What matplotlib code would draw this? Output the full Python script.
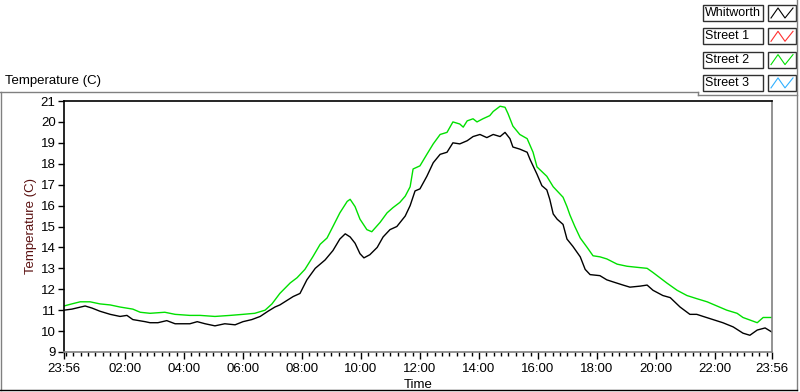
import matplotlib
matplotlib.use("Agg")
import matplotlib.pyplot as plt
from matplotlib.lines import Line2D
from matplotlib.patches import Rectangle
from matplotlib.ticker import FixedLocator, FixedFormatter

plt.rcParams['font.family'] = ['Liberation Sans', 'DejaVu Sans']

# minutes since 23:56, temperature (C)
whit_t = [0, 16, 43, 57, 73, 94, 114, 128, 140, 165, 175, 191, 209, 226, 256, 271, 287, 307,
          327, 348, 364, 382, 399, 415, 429, 439, 466, 480, 494, 511, 531, 547, 561, 572, 582,
          592, 602, 610, 622, 637, 649, 663, 677, 694, 704, 714, 724, 738, 751, 765, 779, 791,
          805, 820, 832, 846, 860, 873, 887, 897, 907, 913, 927, 942, 948, 962, 972, 982, 988,
          995, 1003, 1015, 1023, 1035, 1050, 1060, 1070, 1090, 1104, 1117, 1137, 1151, 1172,
          1186, 1198, 1218, 1233, 1253, 1273, 1287, 1300, 1320, 1340, 1361, 1381, 1395, 1410,
          1426, 1440]
whit_v = [11.0, 11.05, 11.2, 11.1, 10.95, 10.8, 10.7, 10.75, 10.55, 10.45, 10.4, 10.4, 10.5,
          10.35, 10.35, 10.45, 10.35, 10.25, 10.35, 10.3, 10.45, 10.55, 10.7, 10.95, 11.15,
          11.25, 11.65, 11.8, 12.45, 13.0, 13.4, 13.85, 14.4, 14.65, 14.5, 14.2, 13.7, 13.5,
          13.65, 14.0, 14.5, 14.85, 15.0, 15.5, 16.0, 16.7, 16.8, 17.4, 18.05, 18.45, 18.55,
          19.0, 18.95, 19.1, 19.3, 19.4, 19.25, 19.4, 19.3, 19.5, 19.2, 18.8, 18.7, 18.55, 18.2,
          17.5, 16.95, 16.75, 16.3, 15.6, 15.35, 15.1, 14.4, 14.05, 13.55, 12.95, 12.7, 12.65,
          12.45, 12.35, 12.2, 12.1, 12.15, 12.2, 11.95, 11.7, 11.6, 11.15, 10.8, 10.8, 10.7,
          10.55, 10.4, 10.2, 9.9, 9.8, 10.05, 10.15, 9.95]

st2_t = [0, 16, 33, 53, 73, 94, 114, 140, 155, 175, 205, 226, 256, 277, 307, 338, 364, 388,
         409, 423, 439, 460, 474, 490, 506, 521, 535, 547, 561, 576, 582, 592, 602, 616, 626,
         643, 657, 669, 683, 694, 704, 710, 724, 738, 751, 765, 779, 791, 805, 812, 820, 832,
         840, 852, 866, 873, 887, 897, 903, 913, 927, 942, 954, 962, 982, 995, 1015, 1023,
         1029, 1039, 1050, 1064, 1076, 1090, 1104, 1125, 1145, 1165, 1186, 1198, 1212, 1226,
         1247, 1267, 1287, 1308, 1328, 1348, 1369, 1381, 1410, 1422, 1440]
st2_v = [11.2, 11.3, 11.4, 11.4, 11.3, 11.25, 11.15, 11.05, 10.9, 10.85, 10.9, 10.8, 10.75,
         10.75, 10.7, 10.75, 10.8, 10.85, 11.0, 11.3, 11.8, 12.3, 12.55, 12.95, 13.55, 14.15,
         14.45, 15.0, 15.65, 16.2, 16.3, 15.95, 15.35, 14.85, 14.75, 15.2, 15.65, 15.9, 16.15,
         16.45, 16.9, 17.75, 17.9, 18.45, 18.95, 19.4, 19.5, 20.0, 19.9, 19.75, 20.05, 20.15,
         20.0, 20.15, 20.3, 20.5, 20.75, 20.7, 20.4, 19.8, 19.4, 19.2, 18.55, 17.85, 17.4,
         16.9, 16.4, 15.95, 15.55, 15.0, 14.45, 14.0, 13.6, 13.55, 13.45, 13.2, 13.1, 13.05,
         13.0, 12.8, 12.55, 12.3, 11.95, 11.7, 11.55, 11.4, 11.2, 11.0, 10.85, 10.65, 10.4,
         10.65, 10.65]

tick_pos = [0, 124, 244, 364, 484, 604, 724, 844, 964, 1084, 1204, 1324, 1440]
tick_labels = ["23:56", "02:00", "04:00", "06:00", "08:00", "10:00", "12:00", "14:00",
               "16:00", "18:00", "20:00", "22:00", "23:56"]
legend_names = ["Whitworth", "Street 1", "Street 2", "Street 3"]
legend_colors = ["black", "#ff3030", "#00e000", "#30b0ff"]

W, H = 800, 392
fig = plt.figure(figsize=(W / 100, H / 100), dpi=100)


def fx(x):
    return x / W


def fy(y):
    return 1 - y / H


def line(xs, ys, color, lw=1.0):
    fig.add_artist(Line2D([fx(x) for x in xs], [fy(y) for y in ys],
                          transform=fig.transFigure, color=color, lw=lw))


ax = fig.add_axes([fx(64), fy(352), fx(772) - fx(64), fy(101) - fy(352)])
ax.plot(whit_t, whit_v, color="black", lw=1.0)
ax.plot(st2_t, st2_v, color="#00e000", lw=1.0)
ax.set_xlim(0, 1440)
ax.set_ylim(9, 21)

ax.set_yticks(range(9, 22))
ax.xaxis.set_major_locator(FixedLocator(tick_pos))
ax.xaxis.set_major_formatter(FixedFormatter(tick_labels))
ax.xaxis.set_minor_locator(FixedLocator(list(range(4, 1440, 15))))
ax.tick_params(axis="y", direction="out", length=4, width=1, pad=2, labelsize=9.5)
ax.tick_params(axis="x", which="major", direction="out", length=5, width=1, pad=3, labelsize=9.5)
ax.tick_params(axis="x", which="minor", direction="out", length=3, width=1)

for s in ["top", "left"]:
    ax.spines[s].set_color("black")
for s in ["right", "bottom"]:
    ax.spines[s].set_color("#808080")
for s in ax.spines.values():
    s.set_linewidth(1.2)

ax.set_xlabel("Time", fontsize=9.5, labelpad=3)
ax.set_ylabel("Temperature (C)", fontsize=9.5, color="#5a1010", labelpad=3)

# chart frame
fig.text(fx(5), fy(81), "Temperature (C)", fontsize=9.5, va="center", ha="left")
line([0, 698], [92, 92], "#808080")
line([698, 698], [92, 95], "#808080")
line([698, 797], [95, 95], "#808080")
line([797, 797], [0, 390], "#808080")
line([1, 1], [92, 390], "#808080")
line([0, 797], [390, 390], "black")

# legend
for i, (name, col) in enumerate(zip(legend_names, legend_colors)):
    top = 5 + i * 23.3
    fig.add_artist(Rectangle((fx(703), fy(top + 16)), fx(763) - fx(703), fy(top) - fy(top + 16),
                             transform=fig.transFigure, facecolor="white",
                             edgecolor="#303030", lw=1))
    fig.text(fx(705), fy(top + 8), name, fontsize=9, va="center", ha="left")
    fig.add_artist(Rectangle((fx(768), fy(top + 16)), fx(796) - fx(768), fy(top) - fy(top + 16),
                             transform=fig.transFigure, facecolor="white",
                             edgecolor="#303030", lw=1))
    line([771, 778, 785, 793], [top + 13, top + 3, top + 13, top + 3], col, lw=0.8)

fig.savefig("out.png", dpi=100)
